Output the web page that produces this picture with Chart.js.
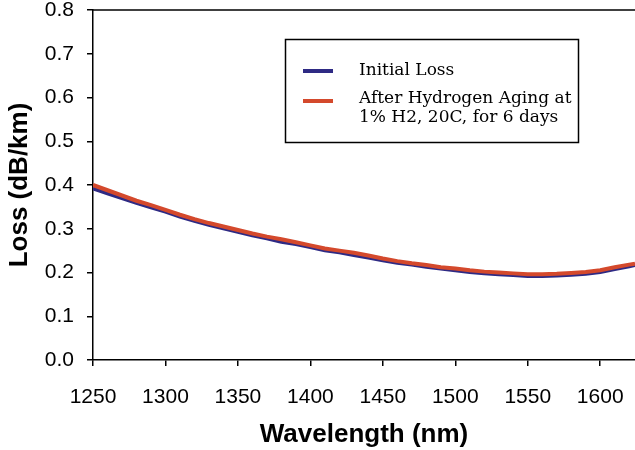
<!DOCTYPE html>
<html>
<head>
<meta charset="utf-8">
<script src="https://cdn.jsdelivr.net/npm/chart.js@4.4.0/dist/chart.umd.min.js"></script>
<style>
  html,body{margin:0;padding:0;background:#fff}
  #wrap{width:635px;height:450px;position:relative}
</style>
</head>
<body>
<div id="wrap"><canvas id="c"></canvas></div>
<script>
// wavelength (nm)
const wl = [1250,1260,1270,1280,1290,1300,1310,1320,1330,1340,1350,1360,1370,1380,1390,1400,1410,1420,1430,1440,
  1450,1460,1470,1480,1490,1500,1510,1520,1530,1540,1550,1560,1570,1580,1590,1600,1610,1620,1624];
// loss dB/km
const initialLoss = [0.392,0.381,0.370,0.359,0.349,0.339,0.328,0.318,0.309,0.301,0.293,0.285,0.278,0.270,0.265,0.258,0.251,0.246,0.240,0.234,
  0.228,0.222,0.218,0.213,0.209,0.205,0.201,0.198,0.196,0.194,0.192,0.192,0.193,0.195,0.197,0.201,0.208,0.214,0.217];
const agedLoss = [0.400,0.388,0.376,0.364,0.354,0.343,0.332,0.322,0.313,0.305,0.297,0.289,0.282,0.276,0.269,0.262,0.255,0.250,0.245,0.239,
  0.232,0.226,0.221,0.217,0.212,0.209,0.205,0.202,0.200,0.198,0.196,0.196,0.197,0.199,0.201,0.205,0.212,0.218,0.220];
const xTicks = [1250,1300,1350,1400,1450,1500,1550,1600];
const legendLines = [["Initial Loss"],["After Hydrogen Aging at","1% H2, 20C, for 6 days"]];

const BLUE="#2E2A84", RED="#D4492C";
const tickFont={family:"Liberation Sans, Arial",size:21};
const titleFont={family:"Liberation Sans, Arial",size:26,weight:"bold"};

const boxLegend = {
  id:"boxLegend",
  afterDraw(chart){
    const ctx=chart.ctx, a=chart.chartArea;
    ctx.save();
    // top frame line
    ctx.strokeStyle="#000";ctx.lineWidth=1.5;
    ctx.beginPath();ctx.moveTo(a.left,a.top);ctx.lineTo(a.right,a.top);ctx.stroke();
    // legend box
    ctx.lineWidth=1.5;
    ctx.strokeRect(285.5,39.5,293,103);
    const cols=[BLUE,RED], ys=[71,101];
    ctx.font="17px 'DejaVu Serif'";ctx.fillStyle="#000";ctx.textBaseline="middle";
    legendLines.forEach((lines,i)=>{
      ctx.strokeStyle=cols[i];ctx.lineWidth=4;
      ctx.beginPath();ctx.moveTo(303,ys[i]);ctx.lineTo(333,ys[i]);ctx.stroke();
      lines.forEach((t,j)=>ctx.fillText(t,359,(i?ys[i]-2:ys[i])+j*19));
    });
    ctx.restore();
  }
};

new Chart(document.getElementById("c"),{
  type:"line",
  data:{datasets:[
    {label:"After Hydrogen Aging",data:wl.map((x,i)=>({x,y:agedLoss[i]})),borderColor:RED,borderWidth:4,pointRadius:0,order:0,tension:0},
    {label:"Initial Loss",data:wl.map((x,i)=>({x,y:initialLoss[i]})),borderColor:BLUE,borderWidth:4,pointRadius:0,order:1,tension:0}
  ]},
  options:{
    responsive:true,maintainAspectRatio:false,animation:false,
    layout:{padding:{top:10,right:0,left:0,bottom:0}},
    plugins:{legend:{display:false},tooltip:{enabled:false}},
    scales:{
      x:{type:"linear",min:1250,max:1624,
        afterBuildTicks:s=>{s.ticks=xTicks.map(v=>({value:v}));},
        afterFit:s=>{s.height=90;s.paddingRight=0;s.paddingLeft=0;},
        ticks:{autoSkip:false,font:tickFont,color:"#000",padding:19,maxRotation:0,callback:v=>String(v)},
        grid:{drawOnChartArea:false,drawTicks:true,tickLength:6,color:"#000",lineWidth:1.5},
        border:{display:true,color:"#000",width:1.5},
        title:{display:true,text:"Wavelength (nm)",font:titleFont,color:"#000",padding:{top:0,bottom:0}}
      },
      y:{min:0,max:0.8,
        afterFit:s=>{s.width=93;s.paddingTop=0;s.paddingBottom=0;},
        ticks:{stepSize:0.1,font:tickFont,color:"#000",padding:13,callback:v=>v.toFixed(1)},
        grid:{drawOnChartArea:false,drawTicks:true,tickLength:6,color:"#000",lineWidth:1.5},
        border:{display:true,color:"#000",width:1.5},
        title:{display:true,text:"Loss (dB/km)",font:titleFont,color:"#000",padding:{top:4,bottom:0}}
      }
    }
  },
  plugins:[boxLegend]
});
</script>
</body>
</html>
